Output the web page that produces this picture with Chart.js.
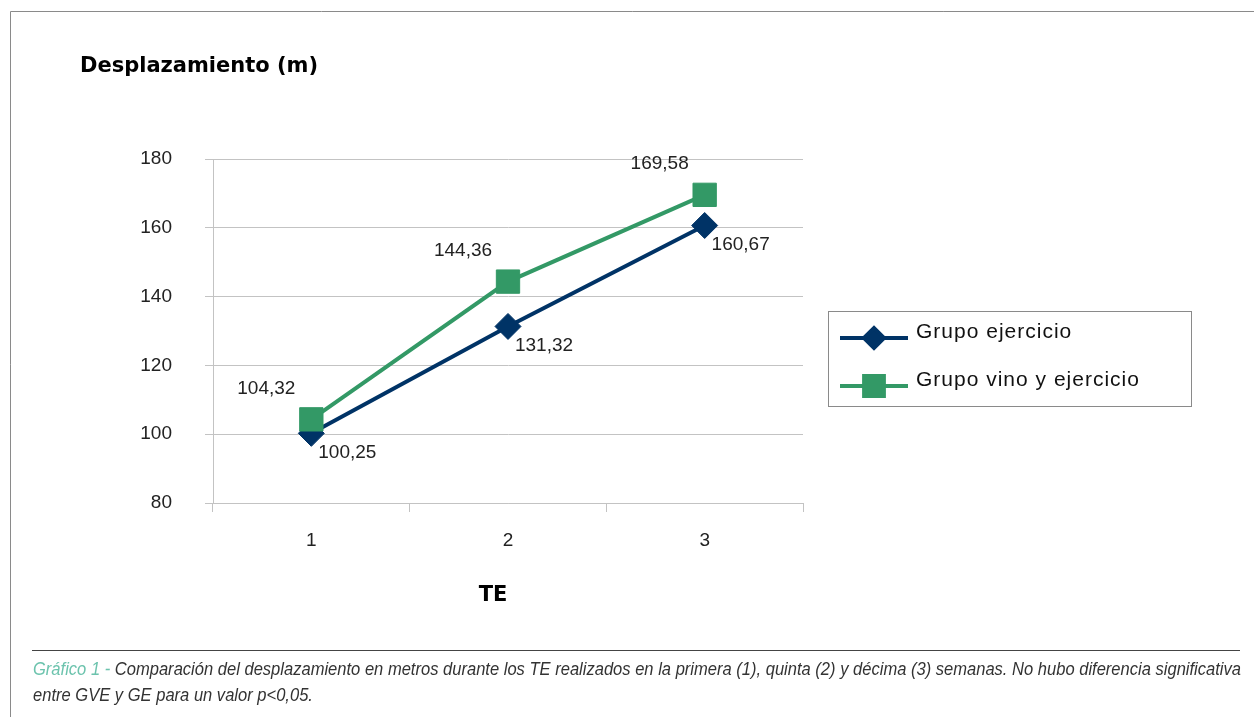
<!DOCTYPE html>
<html>
<head>
<meta charset="utf-8">
<script src="https://cdn.jsdelivr.net/npm/chart.js@4"></script>
<style>
  html, body { margin: 0; padding: 0; background: #fff; }
  canvas { display: block; }
</style>
</head>
<body>
<canvas id="chart" width="1254" height="717"></canvas>
<script>
// --- DATA ---
const categories = ['1', '2', '3'];
const grupoEjercicio = [100.25, 131.32, 160.67];
const grupoVinoEjercicio = [104.32, 144.36, 169.58];
const seriesNames = ['Grupo ejercicio', 'Grupo vino y ejercicio'];
const yTicks = [80, 100, 120, 140, 160, 180];

const titleText = 'Desplazamiento (m)';
const xTitle = 'TE';
const captionLead = 'Gráfico 1 - ';
const captionLine1 = 'Comparación del desplazamiento en metros durante los TE realizados en la primera (1), quinta (2) y décima (3) semanas. No hubo diferencia significativa';
const captionLine2 = 'entre GVE y GE para un valor p<0,05.';

// --- COLOURS ---
const NAVY = '#003366';
const GREEN = '#339966';
const GRID = '#c3c3c3';

const fmt = v => v.toFixed(2).replace('.', ',');

// --- data labels (comma decimals like the original) ---
const labelPlugin = {
  id: 'valueLabels',
  afterDatasetsDraw(chart) {
    const ctx = chart.ctx;
    ctx.save();
    ctx.font = '19px "Liberation Sans", Arial, sans-serif';
    ctx.fillStyle = '#222';
    ctx.textBaseline = 'middle';
    ctx.textAlign = 'center';
    chart.data.datasets.forEach((ds, i) => {
      const meta = chart.getDatasetMeta(i);
      meta.data.forEach((pt, j) => {
        const below = ds.labelBelow;
        const x = pt.x + (below ? 36 : -45);
        const y = pt.y + (below ? 19 : -31);
        ctx.fillText(fmt(ds.data[j]), x, y);
      });
    });
    ctx.restore();
  }
};

// --- frame, title, legend box, caption ---
const decorPlugin = {
  id: 'decor',
  afterDraw(chart) {
    const ctx = chart.ctx;
    ctx.save();

    // outer frame (top + left)
    ctx.strokeStyle = '#8a8a8a';
    ctx.lineWidth = 1;
    ctx.beginPath();
    ctx.moveTo(10.5, 717);
    ctx.lineTo(10.5, 11.5);
    ctx.lineTo(1254, 11.5);
    ctx.stroke();

    // title
    ctx.fillStyle = '#000';
    ctx.font = 'bold 21px "DejaVu Sans", Verdana, sans-serif';
    ctx.textBaseline = 'middle';
    ctx.textAlign = 'left';
    ctx.fillText(titleText, 80, 67);

    // x title
    ctx.textAlign = 'center';
    ctx.fillText(xTitle, 493, 596);

    // legend
    ctx.strokeStyle = '#8a8a8a';
    ctx.lineWidth = 1;
    ctx.strokeRect(828.5, 311.5, 363, 95);
    const rows = [338, 386];
    chart.data.datasets.forEach((ds, i) => {
      const y = rows[i];
      ctx.strokeStyle = ds.borderColor;
      ctx.lineWidth = 4;
      ctx.beginPath();
      ctx.moveTo(840, y);
      ctx.lineTo(908, y);
      ctx.stroke();
      ctx.fillStyle = ds.backgroundColor;
      ctx.strokeStyle = ds.backgroundColor;
      Chart.helpers.drawPoint(ctx, {
        pointStyle: ds.pointStyle,
        radius: ds.pointStyle === 'rect' ? 14 : 10,
        rotation: 0,
        borderWidth: 1
      }, 874, y);
      ctx.fillStyle = '#111';
      ctx.font = '21px "Liberation Sans", Arial, sans-serif';
      ctx.letterSpacing = '1px';
      ctx.textAlign = 'left';
      ctx.fillText(ds.label, 916, y - 6);
      ctx.letterSpacing = '0px';
    });

    // caption separator
    ctx.strokeStyle = '#444';
    ctx.lineWidth = 1;
    ctx.beginPath();
    ctx.moveTo(32, 650.5);
    ctx.lineTo(1240, 650.5);
    ctx.stroke();

    // caption text (squeezed to fit like a narrow face)
    ctx.font = 'italic 18px "Liberation Sans", Arial, sans-serif';
    ctx.textBaseline = 'alphabetic';
    ctx.textAlign = 'left';
    const w1 = ctx.measureText(captionLead).width;
    const w2 = ctx.measureText(captionLine1).width;
    const sx = 1208 / (w1 + w2);
    ctx.save();
    ctx.translate(33, 675);
    ctx.scale(sx, 1);
    ctx.fillStyle = '#6cc3ad';
    ctx.fillText(captionLead, 0, 0);
    ctx.fillStyle = '#333';
    ctx.fillText(captionLine1, w1, 0);
    ctx.restore();
    ctx.save();
    ctx.translate(33, 701);
    ctx.scale(sx, 1);
    ctx.fillStyle = '#333';
    ctx.fillText(captionLine2, 0, 0);
    ctx.restore();

    ctx.restore();
  }
};

new Chart(document.getElementById('chart'), {
  type: 'line',
  data: {
    labels: categories,
    datasets: [
      {
        label: seriesNames[0],
        data: grupoEjercicio,
        borderColor: NAVY,
        backgroundColor: NAVY,
        borderWidth: 4,
        pointBorderWidth: 1,
        pointStyle: 'rectRot',
        pointRadius: 13,
        pointHoverRadius: 13,
        tension: 0,
        order: 1,
        labelBelow: true
      },
      {
        label: seriesNames[1],
        data: grupoVinoEjercicio,
        borderColor: GREEN,
        backgroundColor: GREEN,
        borderWidth: 4,
        pointBorderWidth: 1,
        pointStyle: 'rect',
        pointRadius: 16.5,
        pointHoverRadius: 16.5,
        tension: 0,
        order: 0,
        labelBelow: false
      }
    ]
  },
  options: {
    responsive: false,
    animation: false,
    layout: { padding: { top: 159, right: 451, left: 0, bottom: 0 } },
    plugins: {
      legend: { display: false },
      tooltip: { enabled: false }
    },
    scales: {
      x: {
        offset: true,
        afterFit: s => { s.height = 214; },
        grid: { drawOnChartArea: false, offset: true, tickLength: 9, color: GRID },
        border: { color: GRID },
        ticks: {
          color: '#222',
          padding: 17,
          font: { family: '"Liberation Sans", Arial, sans-serif', size: 19 }
        }
      },
      y: {
        min: yTicks[0],
        max: yTicks[yTicks.length - 1],
        afterFit: s => { s.width = 213; },
        afterBuildTicks: s => { s.ticks = yTicks.map(v => ({ value: v })); },
        grid: { color: GRID, tickLength: 8 },
        border: { color: GRID },
        ticks: {
          color: '#222',
          padding: 33,
          font: { family: '"Liberation Sans", Arial, sans-serif', size: 19 }
        }
      }
    }
  },
  plugins: [labelPlugin, decorPlugin]
});
</script>
</body>
</html>
